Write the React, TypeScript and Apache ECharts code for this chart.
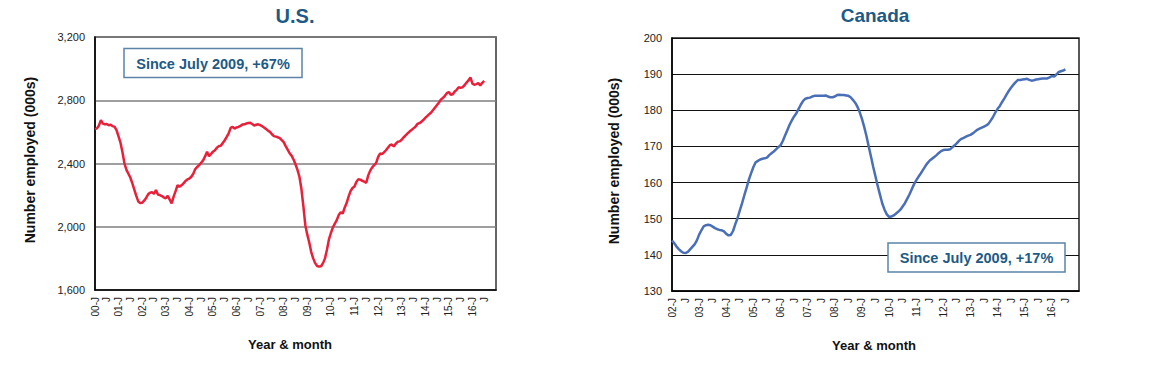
import React, { useEffect, useRef } from "react";
import * as echarts from "echarts";

// Monthly employment, U.S. (000s), Jan 2000 – Jul 2016
const usValues: number[] = [
  2617, 2622, 2640, 2674, 2652, 2648, 2650, 2642, 2645, 2636, 2632, 2610,
  2570, 2530, 2470, 2400, 2360, 2335, 2310, 2274, 2235, 2195, 2160, 2150,
  2152, 2165, 2182, 2205, 2215, 2218, 2208, 2232, 2204, 2200, 2194, 2186,
  2180, 2195, 2172, 2148, 2190, 2225, 2263, 2253, 2262, 2274, 2290, 2299,
  2305, 2316, 2335, 2365, 2378, 2390, 2405, 2420, 2445, 2474, 2446, 2460,
  2475, 2484, 2500, 2510, 2512, 2530, 2547, 2568, 2590, 2625, 2632, 2621,
  2628, 2632, 2638, 2646, 2648, 2653, 2656, 2657, 2650, 2640, 2645, 2648,
  2642, 2636, 2628, 2618, 2608, 2600, 2585, 2573, 2570, 2566, 2560, 2548,
  2535, 2510, 2488, 2465, 2450, 2425, 2395, 2360, 2316, 2240, 2130, 2010,
  1950, 1900, 1840, 1800, 1770, 1752, 1748, 1750, 1770, 1800, 1855, 1920,
  1960, 1995, 2020, 2042, 2075, 2092, 2084, 2120, 2150, 2190, 2225, 2245,
  2255, 2285, 2300, 2298, 2290, 2285, 2278, 2325, 2355, 2375, 2390, 2402,
  2440, 2463, 2459, 2470, 2484, 2500, 2516, 2520, 2508, 2525, 2537, 2540,
  2550, 2565, 2578, 2590, 2602, 2612, 2622, 2632, 2650, 2655, 2663, 2675,
  2688, 2700, 2712, 2722, 2738, 2754, 2770, 2786, 2805, 2815, 2828, 2845,
  2852, 2835, 2838, 2855, 2866, 2882, 2878, 2883, 2895, 2912, 2925, 2945,
  2905, 2898, 2902, 2908, 2893, 2910, 2922,
];

// Monthly employment, Canada (000s), Jan 2002 – Jul 2016
const caValues: number[] = [
  144.0, 143.2, 142.3, 141.6, 141.0, 140.6, 140.5, 140.8, 141.5, 142.2, 142.9, 144.0,
  145.6, 146.8, 147.9, 148.2, 148.3, 148.2, 147.8, 147.4, 147.1, 146.9, 146.8, 146.5,
  145.8, 145.4, 145.5, 146.6, 148.5, 150.2, 152.3, 154.3, 156.5, 158.6, 160.8, 162.6,
  164.3, 165.6, 166.0, 166.4, 166.6, 166.7, 166.9, 167.6, 168.1, 168.6, 169.2, 169.8,
  170.3, 171.5, 173.0, 174.5, 176.0, 177.2, 178.3, 179.2, 180.4, 181.6, 182.6, 183.2,
  183.4, 183.5, 183.8, 184.0, 184.0, 184.0, 184.0, 184.0, 184.1, 183.8, 183.6, 183.6,
  183.8, 184.2, 184.3, 184.2, 184.2, 184.1, 184.0, 183.6, 182.9, 182.1, 181.0, 179.5,
  177.6, 175.4, 172.9, 170.0, 167.2, 164.3, 161.7, 159.0, 156.6, 154.2, 152.5, 151.2,
  150.5, 150.6, 150.9, 151.4, 151.9, 152.5, 153.4, 154.3, 155.5, 156.7, 158.1, 159.5,
  160.6, 161.6, 162.5, 163.5, 164.5, 165.4, 166.1, 166.6, 167.1, 167.6, 168.2, 168.7,
  169.0, 169.1, 169.1, 169.2, 169.8, 170.3, 170.9, 171.6, 172.1, 172.4, 172.7, 173.0,
  173.2, 173.6, 174.1, 174.6, 174.9, 175.2, 175.5, 175.8, 176.3, 177.2, 178.2, 179.4,
  180.4, 181.2, 182.3, 183.3, 184.4, 185.4, 186.3, 187.1, 187.8, 188.4, 188.4, 188.5,
  188.6, 188.7, 188.4, 188.2, 188.3, 188.5, 188.6, 188.7, 188.8, 188.8, 188.8, 189.1,
  189.5, 189.3, 189.9, 190.6, 190.8, 191.0, 191.3,
];

const usStartYear = 2000;
const caStartYear = 2002;
const axisEndYear = 2017; // axes run to January of this year

const usTitle = "U.S.";
const caTitle = "Canada";
const yAxisTitle = "Number employed (000s)";
const xAxisTitle = "Year & month";
const usNote = "Since July 2009, +67%";
const caNote = "Since July 2009, +17%";

function buildMonths(startYear: number, endYear: number): string[] {
  const out: string[] = [];
  for (let y = startYear; y <= endYear; y++) {
    for (let m = 1; m <= 12; m++) {
      if (y === endYear && m > 1) break;
      out.push(`${y}-${m < 10 ? "0" + m : m}`);
    }
  }
  return out;
}

const usMonths = buildMonths(usStartYear, axisEndYear);
const caMonths = buildMonths(caStartYear, axisEndYear);

const TITLE_COLOR = "#1D5A85";
const FONT = "'Liberation Sans', Arial, sans-serif";

function monthLabel(v: string): string {
  const [y, m] = v.split("-");
  if (m === "01") return y.slice(2) + "-J";
  if (m === "07") return "J";
  return "";
}

function makeXAxis(gridIndex: number, months: string[]) {
  const n = months.length;
  return {
    type: "category",
    gridIndex,
    data: months,
    boundaryGap: false,
    axisLine: { show: true, lineStyle: { color: "#000", width: 1.5 } },
    axisTick: { show: false },
    splitLine: { show: false },
    axisLabel: {
      interval: (i: number) => i % 6 === 0 && i < n - 1,
      formatter: monthLabel,
      rotate: 90,
      margin: 7,
      fontSize: 10,
      fontFamily: FONT,
      color: "#222",
    },
  };
}

function makeYAxis(
  gridIndex: number,
  min: number,
  max: number,
  interval: number,
  gridColor: string,
  gridWidth: number
) {
  return {
    type: "value",
    gridIndex,
    min,
    max,
    interval,
    axisLine: { show: true, lineStyle: { color: "#000", width: 1.5 } },
    axisTick: { show: false },
    splitLine: { show: true, lineStyle: { color: gridColor, width: gridWidth } },
    axisLabel: {
      margin: 10,
      fontSize: 11,
      fontFamily: FONT,
      color: "#222",
      formatter: (v: number) => v.toLocaleString("en-US"),
    },
  };
}

export default function App() {
  const ref = useRef<HTMLDivElement>(null);

  useEffect(() => {
    if (!ref.current) return;
    const chart = echarts.init(ref.current, null, { renderer: "svg" });

    const textStyle = (text: string, size: number, color: string) => ({
      text,
      fill: color,
      font: `bold ${size}px ${FONT}`,
      align: "center",
      verticalAlign: "middle",
    });

    chart.setOption({
      animation: false,
      backgroundColor: "#fff",
      grid: [
        {
          left: 95,
          top: 37,
          width: 401,
          height: 253,
          show: true,
          borderColor: "#333",
          borderWidth: 1.5,
          backgroundColor: "transparent",
        },
        {
          left: 672,
          top: 38,
          width: 407,
          height: 253,
          show: true,
          borderColor: "#222",
          borderWidth: 1.5,
          backgroundColor: "transparent",
        },
      ],
      xAxis: [makeXAxis(0, usMonths), makeXAxis(1, caMonths)],
      yAxis: [
        makeYAxis(0, 1600, 3200, 400, "#7f7f7f", 1.5),
        makeYAxis(1, 130, 200, 10, "#111", 1.2),
      ],
      series: [
        {
          type: "line",
          xAxisIndex: 0,
          yAxisIndex: 0,
          data: usValues,
          showSymbol: false,
          symbol: "none",
          lineStyle: { color: "#E8203A", width: 2.5 },
          itemStyle: { color: "#E8203A" },
        },
        {
          type: "line",
          xAxisIndex: 1,
          yAxisIndex: 1,
          data: caValues,
          showSymbol: false,
          symbol: "none",
          lineStyle: { color: "#4A6FB7", width: 2.5 },
          itemStyle: { color: "#4A6FB7" },
        },
      ],
      graphic: [
        { type: "text", x: 295, y: 15.5, style: textStyle(usTitle, 20, TITLE_COLOR) },
        { type: "text", x: 875, y: 15.5, style: textStyle(caTitle, 19, TITLE_COLOR) },
        {
          type: "text",
          x: 30,
          y: 160,
          rotation: Math.PI / 2,
          style: textStyle(yAxisTitle, 14, "#111"),
        },
        {
          type: "text",
          x: 614,
          y: 161,
          rotation: Math.PI / 2,
          style: textStyle(yAxisTitle, 14, "#111"),
        },
        { type: "text", x: 290, y: 344, style: textStyle(xAxisTitle, 13, "#111") },
        { type: "text", x: 874, y: 345.5, style: textStyle(xAxisTitle, 13, "#111") },
        {
          type: "rect",
          z: 10,
          shape: { x: 124, y: 48.5, width: 178, height: 29 },
          style: { fill: "#fff", stroke: "#5B84A8", lineWidth: 1.5 },
        },
        {
          type: "text",
          z: 11,
          x: 213,
          y: 63.5,
          style: textStyle(usNote, 14.5, TITLE_COLOR),
        },
        {
          type: "rect",
          z: 10,
          shape: { x: 888, y: 243, width: 177, height: 29 },
          style: { fill: "#fff", stroke: "#5B84A8", lineWidth: 1.5 },
        },
        {
          type: "text",
          z: 11,
          x: 976.5,
          y: 257.5,
          style: textStyle(caNote, 14.5, TITLE_COLOR),
        },
      ],
    });

    return () => chart.dispose();
  }, []);

  return (
    <div
      ref={ref}
      style={{ position: "absolute", left: 0, top: 0, width: 1160, height: 366 }}
    />
  );
}
